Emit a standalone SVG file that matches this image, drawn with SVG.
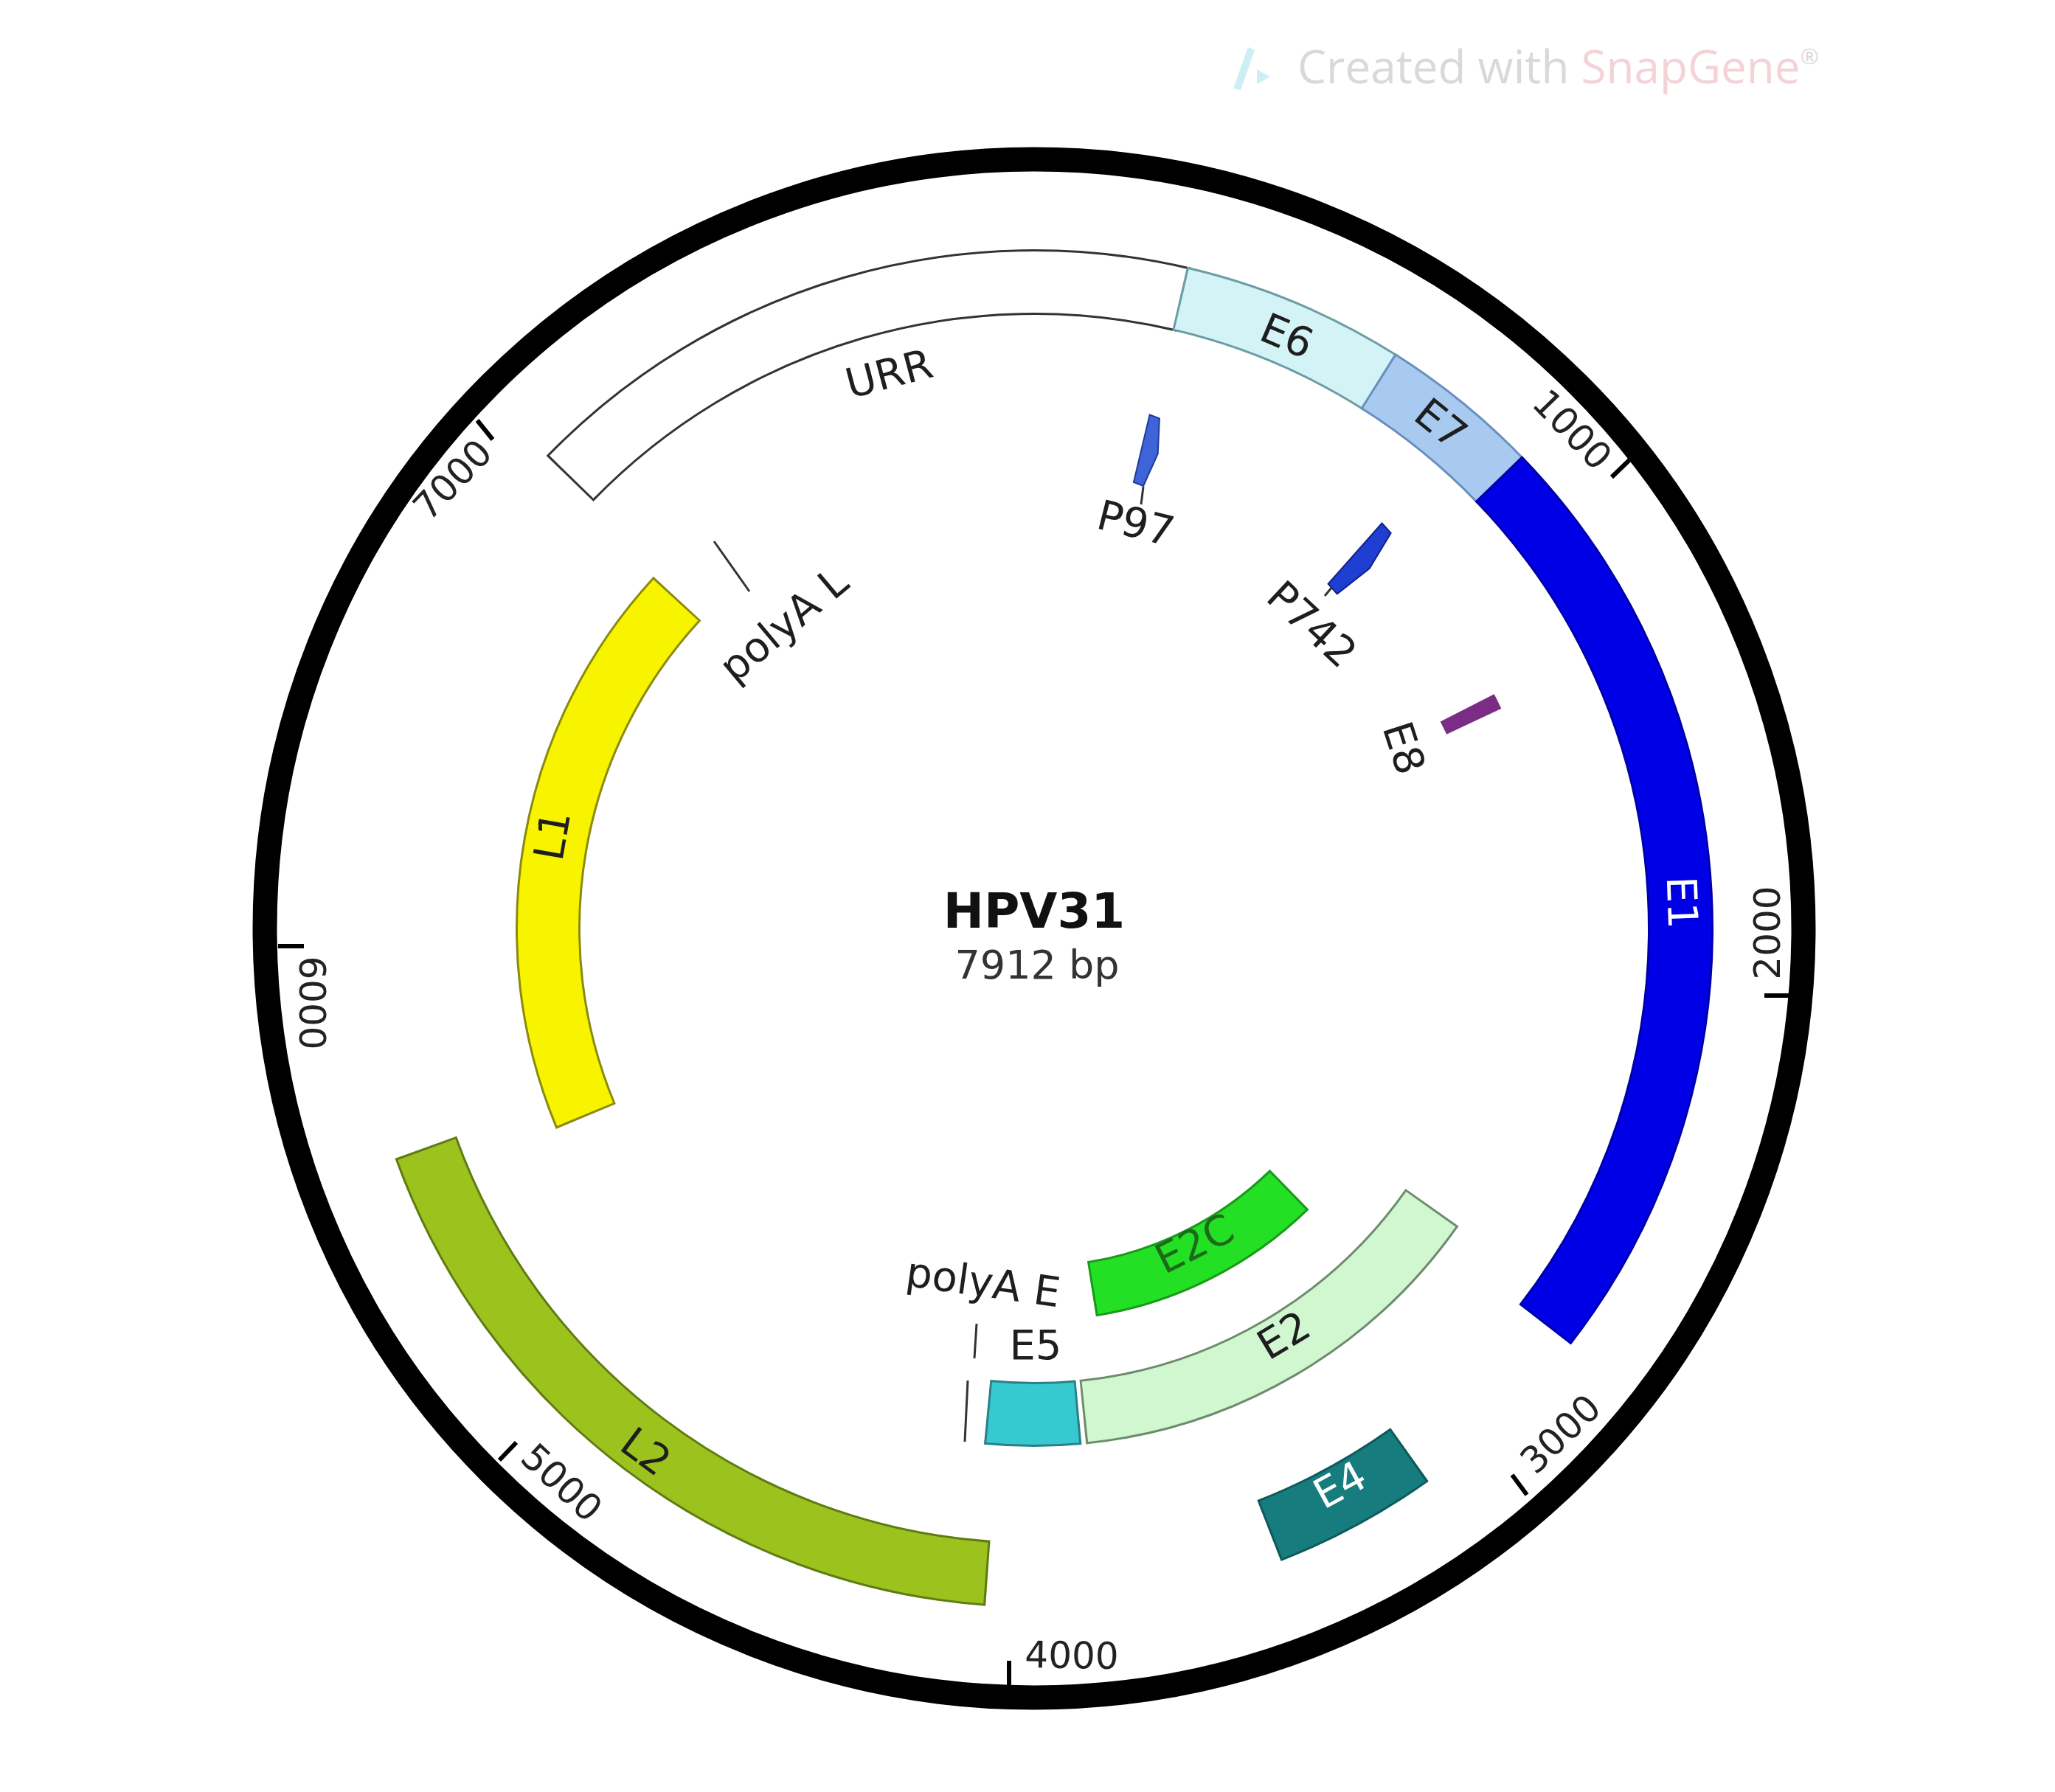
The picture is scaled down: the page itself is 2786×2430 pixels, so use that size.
<svg xmlns="http://www.w3.org/2000/svg" width="2786" height="2430" viewBox="0 0 2786 2430">
<style>
.lbl{font-family:"DejaVu Sans",Verdana,sans-serif;font-size:56px;fill:#1e1e1e;text-anchor:middle}
.tick{font-family:"DejaVu Sans",Verdana,sans-serif;font-size:50px;fill:#222;text-anchor:middle}
.arc{fill:none}
.ro{stroke-width:89}
.rf{stroke-width:83}
.mo{stroke-width:88}
.mf{stroke-width:82}
.io{stroke-width:76}
.if{stroke-width:70}
.tk{stroke:#000;stroke-width:6}
.cn{stroke:#333;stroke-width:3;fill:none}
</style>
<rect width="2786" height="2430" fill="#fff"/>
<g id="watermark">
<path d="M1672 120 L1692 64 L1701 68 L1682 122 Z" fill="#cdeef3"/>
<path d="M1704 94 L1722 104 L1704 114 Z" fill="#cdeef3"/>
<text x="1759" y="113" font-family="'Open Sans',sans-serif" font-size="62" fill="#d9d9d9">Created with <tspan fill="#f3d3d7">SnapGene</tspan><tspan font-size="30" dy="-26">®</tspan></text>
</g>
<g id="backbone">
<circle cx="1402" cy="1259" r="1043" fill="none" stroke="#000" stroke-width="33"/>
<line class="tk" x1="2213" y1="620" x2="2185" y2="647"/>
<line class="tk" x1="2430" y1="1350" x2="2392" y2="1350"/>
<line class="tk" x1="2070" y1="2027" x2="2050" y2="2000"/>
<line class="tk" x1="1368" y1="2287" x2="1368" y2="2252"/>
<line class="tk" x1="677" y1="1980" x2="700" y2="1956"/>
<line class="tk" x1="377" y1="1283" x2="412" y2="1283"/>
<line class="tk" x1="647" y1="570" x2="668" y2="596"/>
<text class="tick" transform="translate(2132 582) rotate(46)" dy="18">1000</text>
<text class="tick" transform="translate(2395 1265) rotate(-90)" dy="18">2000</text>
<text class="tick" transform="translate(2115 1944) rotate(-44)" dy="18">3000</text>
<text class="tick" transform="translate(1453 2244) rotate(1)" dy="18">4000</text>
<text class="tick" transform="translate(762 2010) rotate(43)" dy="18">5000</text>
<text class="tick" transform="translate(424 1360) rotate(90)" dy="18">6000</text>
<text class="tick" transform="translate(613 650) rotate(-46)" dy="18">7000</text>
</g>
<g id="URR">
<circle class="arc ro" cx="1402" cy="1259" r="876.5" pathLength="360" stroke="#333" stroke-dasharray="59.3 999" transform="rotate(224.1 1402 1259)"/>
<circle class="arc rf" cx="1402" cy="1259" r="876.5" pathLength="360" stroke="#ffffff" stroke-dasharray="58.9 999" transform="rotate(224.3 1402 1259)"/>
<text class="lbl" transform="translate(1205 506) rotate(-14.7)" dy="20">URR</text>
</g>
<g id="E6">
<circle class="arc ro" cx="1402" cy="1259" r="876.5" pathLength="360" stroke="#6a9ea4" stroke-dasharray="19.5 999" transform="rotate(-77 1402 1259)"/>
<circle class="arc rf" cx="1402" cy="1259" r="876.5" pathLength="360" stroke="#d3f3f7" stroke-dasharray="19.1 999" transform="rotate(-76.8 1402 1259)"/>
<text class="lbl" transform="translate(1745 455) rotate(23)" dy="20">E6</text>
</g>
<g id="E7">
<circle class="arc ro" cx="1402" cy="1259" r="876.5" pathLength="360" stroke="#6a8fbf" stroke-dasharray="14.2 999" transform="rotate(-57.9 1402 1259)"/>
<circle class="arc rf" cx="1402" cy="1259" r="876.5" pathLength="360" stroke="#a9caf0" stroke-dasharray="13.8 999" transform="rotate(-57.7 1402 1259)"/>
<text class="lbl" transform="translate(1954 574) rotate(39)" dy="20">E7</text>
</g>
<g id="E1">
<circle class="arc ro" cx="1402" cy="1259" r="876.5" pathLength="360" stroke="#0000a8" stroke-dasharray="81.9 999" transform="rotate(-44.1 1402 1259)"/>
<circle class="arc rf" cx="1402" cy="1259" r="876.5" pathLength="360" stroke="#0000e6" stroke-dasharray="81.5 999" transform="rotate(-43.9 1402 1259)"/>
<text class="lbl" transform="translate(2281 1224) rotate(88)" dy="20" style="fill:#fff">E1</text>
</g>
<g id="E4">
<circle class="arc ro" cx="1402" cy="1259" r="876.5" pathLength="360" stroke="#0e5a5c" stroke-dasharray="14.2 999" transform="rotate(54.5 1402 1259)"/>
<circle class="arc rf" cx="1402" cy="1259" r="876.5" pathLength="360" stroke="#177c7e" stroke-dasharray="13.8 999" transform="rotate(54.7 1402 1259)"/>
<text class="lbl" transform="translate(1816 2013) rotate(-28.6)" dy="20" style="fill:#fff">E4</text>
</g>
<g id="L2">
<circle class="arc ro" cx="1402" cy="1259" r="876.5" pathLength="360" stroke="#5f7c12" stroke-dasharray="66.1 999" transform="rotate(94.1 1402 1259)"/>
<circle class="arc rf" cx="1402" cy="1259" r="876.5" pathLength="360" stroke="#9cc21e" stroke-dasharray="65.7 999" transform="rotate(94.3 1402 1259)"/>
<text class="lbl" transform="translate(876 1968) rotate(36.5)" dy="20">L2</text>
</g>
<g id="L1">
<circle class="arc mo" cx="1402" cy="1259" r="659" pathLength="360" stroke="#8a8a10" stroke-dasharray="65.52 999" transform="rotate(157.24 1402 1259)"/>
<circle class="arc mf" cx="1402" cy="1259" r="659" pathLength="360" stroke="#f8f400" stroke-dasharray="65 999" transform="rotate(157.5 1402 1259)"/>
<text class="lbl" transform="translate(748 1133) rotate(-80)" dy="20">L1</text>
</g>
<g id="E2">
<circle class="arc mo" cx="1402" cy="1259" r="659" pathLength="360" stroke="#6d8c6d" stroke-dasharray="49.22 999" transform="rotate(35.04 1402 1259)"/>
<circle class="arc mf" cx="1402" cy="1259" r="659" pathLength="360" stroke="#d0f7d0" stroke-dasharray="48.7 999" transform="rotate(35.3 1402 1259)"/>
<text class="lbl" transform="translate(1740 1810) rotate(-31)" dy="20">E2</text>
</g>
<g id="E5">
<circle class="arc mo" cx="1402" cy="1259" r="659" pathLength="360" stroke="#2a8087" stroke-dasharray="10.82 999" transform="rotate(84.74 1402 1259)"/>
<circle class="arc mf" cx="1402" cy="1259" r="659" pathLength="360" stroke="#36c9d0" stroke-dasharray="10.3 999" transform="rotate(85 1402 1259)"/>
<text class="lbl" x="1404" y="1843">E5</text>
</g>
<g id="E8">
<circle class="arc mf" cx="1402" cy="1259" r="659" pathLength="360" stroke="#7b2d86" stroke-dasharray="1.8 999" transform="rotate(-27 1402 1259)"/>
<text class="lbl" transform="translate(1904 1014) rotate(72)" dy="20">E8</text>
</g>
<g id="E2C">
<circle class="arc io" cx="1402" cy="1259" r="495" pathLength="360" stroke="#1a9a1a" stroke-dasharray="35.3 999" transform="rotate(45.65 1402 1259)"/>
<circle class="arc if" cx="1402" cy="1259" r="495" pathLength="360" stroke="#24e024" stroke-dasharray="34.6 999" transform="rotate(46 1402 1259)"/>
<text class="lbl" transform="translate(1619 1686) rotate(-26.6)" dy="20" style="fill:#1b6b1b">E2C</text>
</g>
<g id="P97">
<polygon points="-9,-714 5,-712 14,-665 5,-618 -9,-620" transform="translate(1402 1259) rotate(13.4)" fill="#3f63d8" stroke="#1e3a9a" stroke-width="2"/>
<text class="lbl" transform="translate(1540 709) rotate(14)" dy="20">P97</text>
</g>
<g id="P742">
<polygon points="-11,-724 7,-722 17,-667 7,-612 -11,-614" transform="translate(1402 1259) rotate(41.5)" fill="#1f3ed2" stroke="#10208a" stroke-width="2"/>
<text class="lbl" transform="translate(1779 846) rotate(43)" dy="20">P742</text>
</g>
<g id="polyA_L">
<line class="cn" x1="968" y1="734" x2="1016" y2="802"/>
<text class="lbl" transform="translate(1062 846) rotate(-40)" dy="20">polyA L</text>
</g>
<g id="polyA_E">
<line class="cn" x1="1312" y1="1872" x2="1308" y2="1955"/>
<text class="lbl" transform="translate(1333 1738) rotate(8)" dy="20">polyA E</text>
</g>
<g id="connectors">
<line class="cn" x1="1324" y1="1795" x2="1321" y2="1842"/>
<line class="cn" x1="1550" y1="660" x2="1547" y2="684"/>
<line class="cn" x1="1806" y1="796" x2="1796" y2="808"/>
</g>
<g id="title">
<text x="1402" y="1258" font-family="'DejaVu Sans',Verdana,sans-serif" font-weight="bold" font-size="66" fill="#111" text-anchor="middle">HPV31</text>
<text x="1406" y="1327" font-family="'DejaVu Sans',Verdana,sans-serif" font-size="54" fill="#333" text-anchor="middle">7912 bp</text>
</g>
</svg>
